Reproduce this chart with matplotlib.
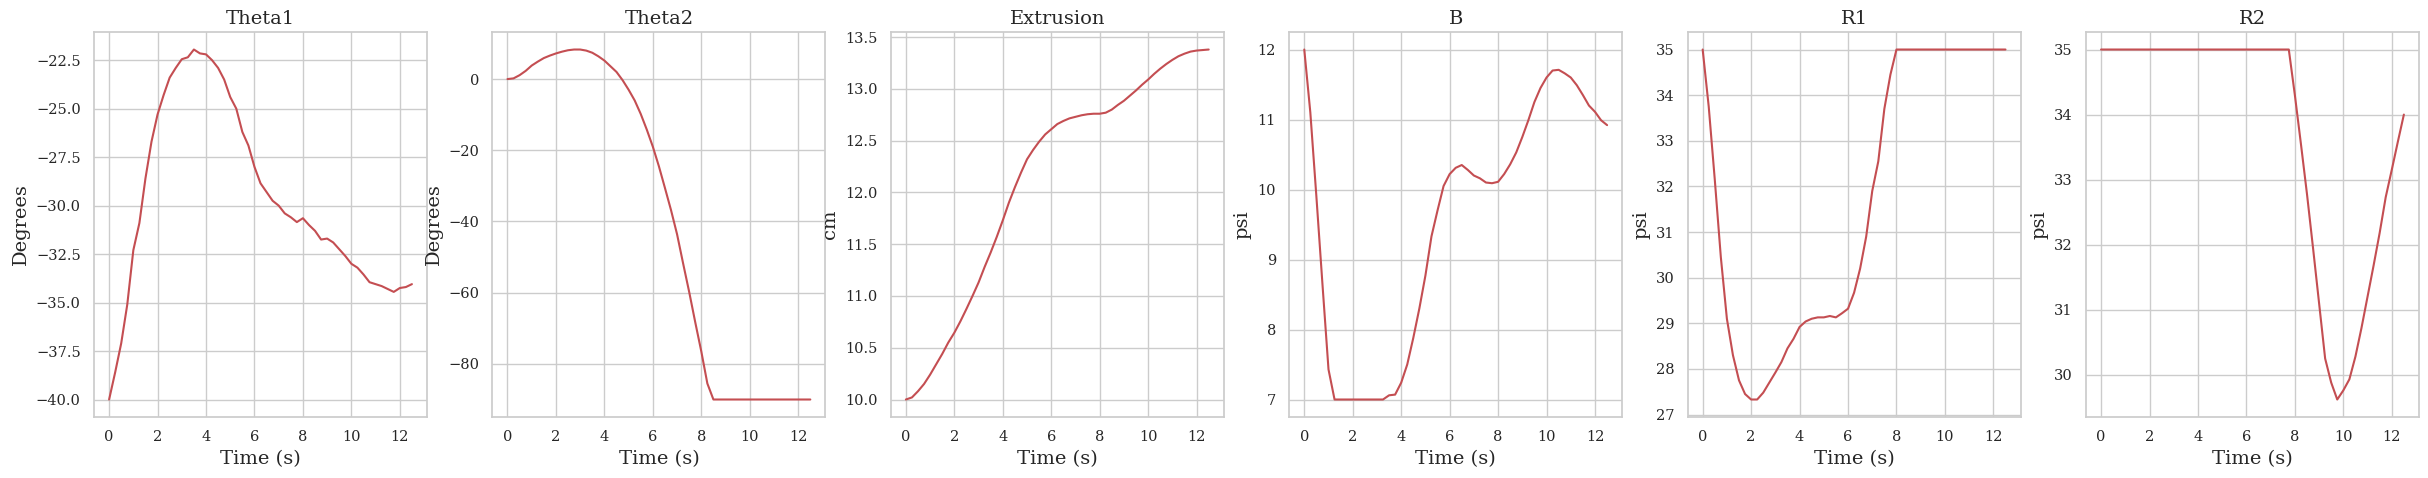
import matplotlib
matplotlib.use("Agg")
import matplotlib.pyplot as plt
import seaborn as sns

# time axis (s), sampled every 0.25 s
time = [0.0, 0.25, 0.5, 0.75, 1.0, 1.25, 1.5, 1.75, 2.0, 2.25, 2.5, 2.75, 3.0,
        3.25, 3.5, 3.75, 4.0, 4.25, 4.5, 4.75, 5.0, 5.25, 5.5, 5.75, 6.0, 6.25,
        6.5, 6.75, 7.0, 7.25, 7.5, 7.75, 8.0, 8.25, 8.5, 8.75, 9.0, 9.25, 9.5,
        9.75, 10.0, 10.25, 10.5, 10.75, 11.0, 11.25, 11.5, 11.75, 12.0, 12.25, 12.5]

theta1 = [-40.0, -38.6, -37.1, -35.1, -32.3, -30.9, -28.6, -26.7, -25.3, -24.3,
          -23.4, -22.9, -22.45, -22.35, -21.95, -22.15, -22.2, -22.5, -22.9, -23.5,
          -24.4, -25.0, -26.2, -26.9, -28.0, -28.85, -29.3, -29.75, -30.0, -30.4,
          -30.6, -30.85, -30.65, -31.0, -31.3, -31.75, -31.7, -31.9, -32.25, -32.6,
          -33.0, -33.2, -33.55, -33.95, -34.05, -34.15, -34.3, -34.45, -34.25, -34.2,
          -34.05]

theta2 = [0.0, 0.2, 1.1, 2.3, 3.8, 4.9, 5.9, 6.6, 7.2, 7.7, 8.1, 8.3, 8.3, 8.0,
          7.4, 6.4, 5.2, 3.6, 2.0, -0.3, -3.0, -6.0, -9.8, -14.2, -19.0, -24.5,
          -30.6, -36.8, -43.6, -51.8, -59.8, -68.3, -76.5, -85.5, -90.0, -90.0,
          -90.0, -90.0, -90.0, -90.0, -90.0, -90.0, -90.0, -90.0, -90.0, -90.0,
          -90.0, -90.0, -90.0, -90.0, -90.0]

extrusion = [10.0, 10.02, 10.08, 10.15, 10.24, 10.34, 10.44, 10.55, 10.645, 10.755,
             10.875, 11.0, 11.13, 11.28, 11.42, 11.57, 11.73, 11.9, 12.05, 12.19,
             12.32, 12.41, 12.49, 12.56, 12.61, 12.66, 12.69, 12.715, 12.73, 12.745,
             12.755, 12.76, 12.76, 12.77, 12.8, 12.845, 12.885, 12.935, 12.985, 13.04,
             13.09, 13.145, 13.195, 13.24, 13.28, 13.315, 13.34, 13.36, 13.37, 13.375,
             13.38]

b_psi = [12.0, 11.1, 9.9, 8.65, 7.43, 7.0, 7.0, 7.0, 7.0, 7.0, 7.0, 7.0, 7.0, 7.0,
         7.06, 7.07, 7.24, 7.5, 7.88, 8.3, 8.77, 9.33, 9.7, 10.05, 10.22, 10.31,
         10.35, 10.28, 10.2, 10.16, 10.1, 10.09, 10.11, 10.22, 10.36, 10.53, 10.75,
         10.99, 11.25, 11.45, 11.6, 11.7, 11.71, 11.66, 11.6, 11.49, 11.35, 11.2,
         11.11, 10.99, 10.92]

r1_psi = [35.0, 33.75, 32.15, 30.45, 29.1, 28.3, 27.75, 27.45, 27.33, 27.33, 27.48,
          27.7, 27.92, 28.15, 28.45, 28.66, 28.92, 29.04, 29.1, 29.13, 29.13, 29.16,
          29.13, 29.22, 29.32, 29.67, 30.2, 30.9, 31.9, 32.55, 33.7, 34.45, 35.0,
          35.0, 35.0, 35.0, 35.0, 35.0, 35.0, 35.0, 35.0, 35.0, 35.0, 35.0, 35.0,
          35.0, 35.0, 35.0, 35.0, 35.0, 35.0]

r2_psi = [35.0, 35.0, 35.0, 35.0, 35.0, 35.0, 35.0, 35.0, 35.0, 35.0, 35.0, 35.0,
          35.0, 35.0, 35.0, 35.0, 35.0, 35.0, 35.0, 35.0, 35.0, 35.0, 35.0, 35.0,
          35.0, 35.0, 35.0, 35.0, 35.0, 35.0, 35.0, 35.0, 34.3, 33.55, 32.78, 31.95,
          31.1, 30.25, 29.88, 29.62, 29.76, 29.93, 30.28, 30.72, 31.2, 31.68, 32.18,
          32.73, 33.15, 33.58, 34.0]

titles = ["Theta1", "Theta2", "Extrusion", "B", "R1", "R2"]
ylabels = ["Degrees", "Degrees", "cm", "psi", "psi", "psi"]
series = [theta1, theta2, extrusion, b_psi, r1_psi, r2_psi]

sns.set_theme(style="whitegrid", font="serif")
plt.rcParams["font.family"] = ["DejaVu Serif"]
plt.rcParams["xtick.labelsize"] = 10.5
plt.rcParams["ytick.labelsize"] = 10.5
plt.rcParams["axes.labelsize"] = 14
plt.rcParams["axes.titlesize"] = 14

fig, axes = plt.subplots(1, 6, figsize=(24.28, 4.78), dpi=100)
for ax, title, ylab, vals in zip(axes, titles, ylabels, series):
    ax.plot(time, vals, color="r", lw=1.5)
    ax.set_title(title)
    ax.set_xlabel("Time (s)")
    ax.set_ylabel(ylab)
    ax.set_xticks([0, 2, 4, 6, 8, 10, 12])

fig.subplots_adjust(left=0.0387, right=0.9963, bottom=0.1276, top=0.933, wspace=0.196)
fig.savefig("out.png", dpi=100)
